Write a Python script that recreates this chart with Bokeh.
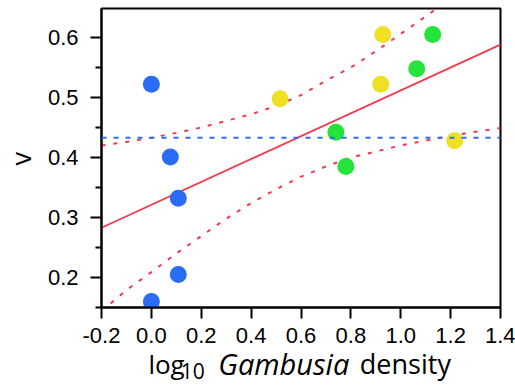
from bokeh.plotting import figure
from bokeh.layouts import column, row
from bokeh.models import FixedTicker, Range1d, Span
from bokeh.core.properties import value
from bokeh.embed import file_html
from bokeh.resources import INLINE

# ---- data ----
blue_x = [0.000, 0.076, 0.108, 0.108, 0.000]
blue_y = [0.522, 0.401, 0.332, 0.205, 0.160]
yellow_x = [0.516, 0.928, 0.920, 1.216]
yellow_y = [0.498, 0.605, 0.522, 0.428]
green_x = [1.128, 1.064, 0.740, 0.780]
green_y = [0.605, 0.548, 0.442, 0.385]

fit_x = [-0.2, 1.4]
fit_y = [0.283, 0.588]
mean_v = 0.433

upper_x = [-0.2, -0.1, 0.0, 0.1, 0.2, 0.3, 0.4, 0.5, 0.6, 0.7, 0.8, 0.9, 1.0, 1.1, 1.2]
upper_y = [0.420, 0.426, 0.433, 0.441, 0.450, 0.461, 0.472, 0.486, 0.504, 0.528, 0.550, 0.577, 0.606, 0.635, 0.665]
lower_x = [-0.2, -0.1, 0.0, 0.1, 0.2, 0.3, 0.4, 0.5, 0.6, 0.7, 0.8, 0.9, 1.0, 1.1, 1.2, 1.3, 1.4]
lower_y = [0.144, 0.179, 0.209, 0.240, 0.269, 0.298, 0.324, 0.347, 0.368, 0.385, 0.400, 0.410, 0.420, 0.428, 0.436, 0.443, 0.449]

x_ticks = [-0.2, 0.0, 0.2, 0.4, 0.6, 0.8, 1.0, 1.2, 1.4]
x_tick_labels = ["-0.2", "0.0", "0.2", "0.4", "0.6", "0.8", "1.0", "1.2", "1.4"]
y_ticks = [0.2, 0.3, 0.4, 0.5, 0.6]
y_tick_labels = ["0.2", "0.3", "0.4", "0.5", "0.6"]
y_minor = [0.15, 0.25, 0.35, 0.45, 0.55]

y_title = "v"
x_title_parts = ["log", "10", "Gambusia", "density"]

RED = "#f23a4e"
BLUE_LINE = "#2f6ef0"
FONT = "Open Sans"

W_LEFT = 40
W = 475
H_MAIN = 355
OVERLAP = 14
H_TITLE = 385 - H_MAIN + OVERLAP

xr = Range1d(-0.2, 1.4)
yr = Range1d(0.15, 0.6483)

p = figure(width=W, height=H_MAIN, output_backend="svg", toolbar_location=None,
           x_range=xr, y_range=yr,
           min_border_left=61, min_border_right=15, min_border_top=8, min_border_bottom=48)
p.xgrid.visible = False
p.ygrid.visible = False
p.outline_line_color = "black"
p.outline_line_width = 2
p.background_fill_color = "white"
p.border_fill_color = "white"

p.xaxis.ticker = FixedTicker(ticks=x_ticks)
p.xaxis.major_label_overrides = {t: l for t, l in zip(x_ticks, x_tick_labels)}
p.yaxis.ticker = FixedTicker(ticks=y_ticks, minor_ticks=y_minor)
p.yaxis.major_label_overrides = {t: l for t, l in zip(y_ticks, y_tick_labels)}

for ax in (p.xaxis, p.yaxis):
    ax.axis_line_width = 2
    ax.axis_line_color = "black"
    ax.major_tick_line_width = 2
    ax.major_tick_line_color = "black"
    ax.major_tick_out = 11
    ax.major_tick_in = 0
    ax.major_label_text_font = "Liberation Sans"
    ax.major_label_text_font_size = "22px"
    ax.major_label_text_color = "black"
p.xaxis.minor_tick_line_color = None
p.yaxis.minor_tick_line_width = 2
p.yaxis.minor_tick_line_color = "black"
p.yaxis.minor_tick_out = 6
p.yaxis.minor_tick_in = 0
p.xaxis.major_label_standoff = 9
p.yaxis.major_label_standoff = 12

# lines
p.line(upper_x, upper_y, line_color=RED, line_width=2, line_dash="4 8")
p.line(lower_x, lower_y, line_color=RED, line_width=2, line_dash="4 8")
p.add_layout(Span(location=mean_v, dimension="width", line_color=BLUE_LINE,
                  line_width=2, line_dash="5 7"))
p.line(fit_x, fit_y, line_color=RED, line_width=1.8)

# points
p.scatter(blue_x, blue_y, size=17, fill_color="#2b6cf7", line_color=None)
p.scatter(yellow_x, yellow_y, size=17, fill_color="#f0e024", line_color=None)
p.scatter(green_x, green_y, size=17, fill_color="#24e33a", line_color=None)

# left strip with the y-axis title
v = figure(width=W_LEFT, height=H_MAIN, output_backend="svg", toolbar_location=None,
           x_range=Range1d(0, W_LEFT), y_range=yr,
           min_border_left=0, min_border_right=0, min_border_top=8, min_border_bottom=48,
           x_axis_location=None, y_axis_location=None)
v.xgrid.visible = False
v.ygrid.visible = False
v.outline_line_color = None
v.background_fill_color = "white"
v.border_fill_color = "white"
v.text(x=[20], y=[0.398], text=[y_title], angle=1.5708, text_font=value(FONT),
       text_font_size=value("27px"), text_align="center", text_baseline="middle",
       text_color="black")

# bottom strip with the x-axis title (mixed styles: subscript and italic)
t = figure(width=W, height=H_TITLE, output_backend="svg", toolbar_location=None,
           x_range=xr, y_range=Range1d(0, H_TITLE),
           min_border_left=61, min_border_right=15, min_border_top=0, min_border_bottom=0,
           x_axis_location=None, y_axis_location=None)
t.margin = (-OVERLAP, 0, 0, 0)
t.xgrid.visible = False
t.ygrid.visible = False
t.outline_line_color = None
t.background_fill_alpha = 0
t.border_fill_alpha = 0

t.text(x=[-0.012], y=[22], text=[x_title_parts[0]], text_font=value(FONT),
       text_font_size=value("26px"), text_baseline="alphabetic", text_color="black")
t.text(x=[0.118], y=[14.5], text=[x_title_parts[1]], text_font=value(FONT),
       text_font_size=value("21px"), text_baseline="alphabetic", text_color="black")
t.text(x=[0.268], y=[22], text=[x_title_parts[2]], text_font=value(FONT),
       text_font_size=value("29px"), text_font_style="italic",
       text_baseline="alphabetic", text_color="black")
t.text(x=[0.836], y=[22], text=[x_title_parts[3]], text_font=value(FONT),
       text_font_size=value("27px"), text_baseline="alphabetic", text_color="black")

layout = row(v, column(p, t, spacing=0), spacing=0)
open("out.html", "w").write(file_html(layout, INLINE))
